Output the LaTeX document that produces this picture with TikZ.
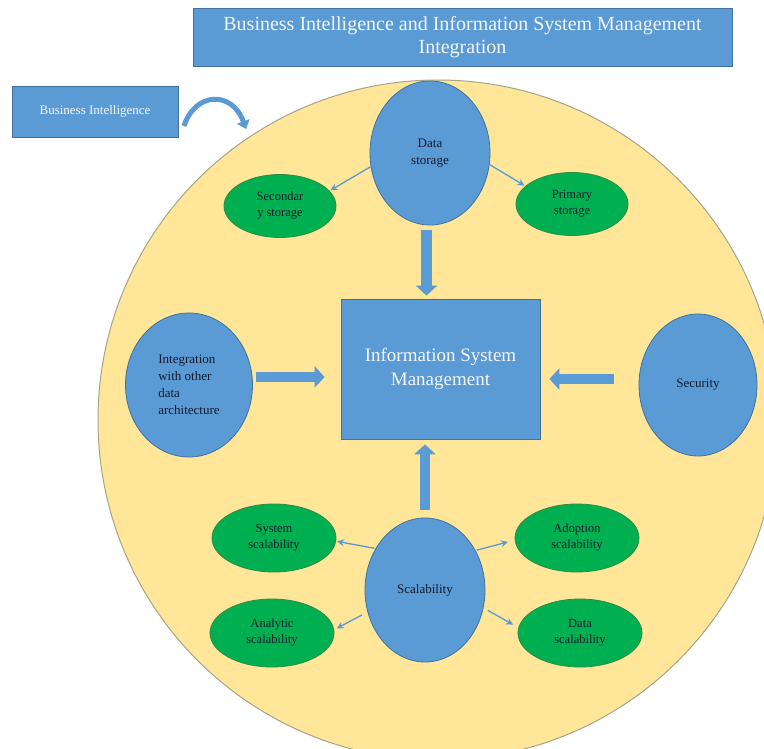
\documentclass[tikz,border=0pt]{standalone}
\usepackage{fontspec}
\setmainfont{Liberation Serif}
\usetikzlibrary{shapes.geometric,arrows.meta}
\definecolor{bfill}{HTML}{5B9BD5}
\definecolor{bdraw}{HTML}{41719C}
\definecolor{gfill}{HTML}{00B050}
\definecolor{gdraw}{HTML}{2E8B45}
\definecolor{yfill}{HTML}{FFE699}
\definecolor{ydraw}{HTML}{A5A58A}
\definecolor{dtext}{HTML}{141A2E}
\definecolor{ltext}{HTML}{F4F6FA}
\tikzset{
  bluebox/.style={rectangle, fill=bfill, draw=bdraw, line width=0.8pt, text=ltext, align=center, inner sep=0pt},
  blueell/.style={ellipse, fill=bfill, draw=bdraw, line width=0.8pt, text=dtext, inner sep=0pt,
     font=\fontsize{13}{17}\selectfont},
  greenell/.style={ellipse, fill=gfill, draw=gdraw, line width=0.8pt, text=dtext, align=center, inner sep=0pt,
     minimum width=124pt, minimum height=68pt, font=\fontsize{12.5}{16}\selectfont},
  thinarr/.style={draw=bfill, line width=1.3pt, -{Stealth[length=7pt,width=7pt]}},
  blockarr/.style={draw=bfill, line width=10.5pt, -{Triangle[width=21pt,length=10pt]}},
}
\begin{document}
\begin{tikzpicture}[x=1pt,y=-1pt]
\useasboundingbox (0,0) rectangle (764,749);
\fill[white] (0,0) rectangle (764,749);
\begin{scope}
  \clip (0,0) rectangle (764,749);
  \filldraw[fill=yfill, draw=ydraw, line width=1pt] (438,420) circle[radius=340];
\end{scope}

% title and side box
\node[bluebox, minimum width=539pt, minimum height=58pt, font=\fontsize{20}{23}\selectfont] (title) at (462.5,37)
  {Business Intelligence and Information System Management\\Integration};
\node[bluebox, minimum width=166pt, minimum height=51pt, font=\fontsize{13}{16}\selectfont] (bi) at (95,111.5)
  {Business Intelligence};

% curved arrow
\coordinate (ca) at (184,126);
\coordinate (cb) at (246,129);
\draw[draw=bfill, line width=5pt, -{Triangle[width=13pt,length=8pt]}] (ca) .. controls (195,92) and (232,90) .. (cb);

% central box
\node[bluebox, minimum width=199pt, minimum height=140pt, font=\fontsize{19}{24}\selectfont] (ism) at (440.5,369)
  {Information System\\Management};

% ellipses
\node[blueell, minimum width=120pt, minimum height=144pt, align=center] (ds) at (430,153) {Data\\storage};
\node[greenell, minimum width=112pt, minimum height=63pt] (sec) at (280,206) {Secondar\\y storage};
\node[greenell, minimum width=112pt, minimum height=63pt] (pri) at (572,204) {Primary\\storage};

\node[blueell, minimum width=127pt, minimum height=144pt, align=left] (int) at (189,385)
  {Integration\\with other\\data\\architecture};
\node[blueell, minimum width=118pt, minimum height=142pt, align=center] (sec2) at (698,385) {Security};

\node[blueell, minimum width=120pt, minimum height=144pt, align=center] (sc) at (425,590) {Scalability};
\node[greenell] (sys) at (274,538) {System\\scalability};
\node[greenell] (ado) at (577,538) {Adoption\\scalability};
\node[greenell] (ana) at (272,633) {Analytic\\scalability};
\node[greenell] (dsc) at (580,633) {Data\\scalability};

% thin arrows
\draw[thinarr, shorten >=1pt] (ds.193) -- (sec.17);
\draw[thinarr, shorten >=1pt] (ds.-11) -- (pri.159);
\draw[thinarr, shorten <=1pt, shorten >=1pt] (sc.140) -- (sys.-3);
\draw[thinarr, shorten <=1pt, shorten >=7pt] (sc.38) -- (ado.182);
\draw[thinarr, shorten <=6pt, shorten >=3pt] (sc.201) -- (ana.3);
\draw[thinarr, shorten <=5pt, shorten >=6pt] (sc.-17) -- (dsc.175);

% block arrows
\draw[blockarr, shorten <=5pt, shorten >=3pt] (ds.south -| 426.5,0) -- (ism.north -| 426.5,0);
\draw[blockarr, shorten <=8pt, shorten >=5pt] (sc.north -| 425,0) -- (ism.south -| 425,0);
\draw[blockarr, shorten <=3pt, shorten >=16pt] (int.east |- 0,377) -- (ism.west |- 0,377);
\draw[blockarr, shorten <=25pt, shorten >=9pt] (sec2.west |- 0,379) -- (ism.east |- 0,379);
\end{tikzpicture}
\end{document}
